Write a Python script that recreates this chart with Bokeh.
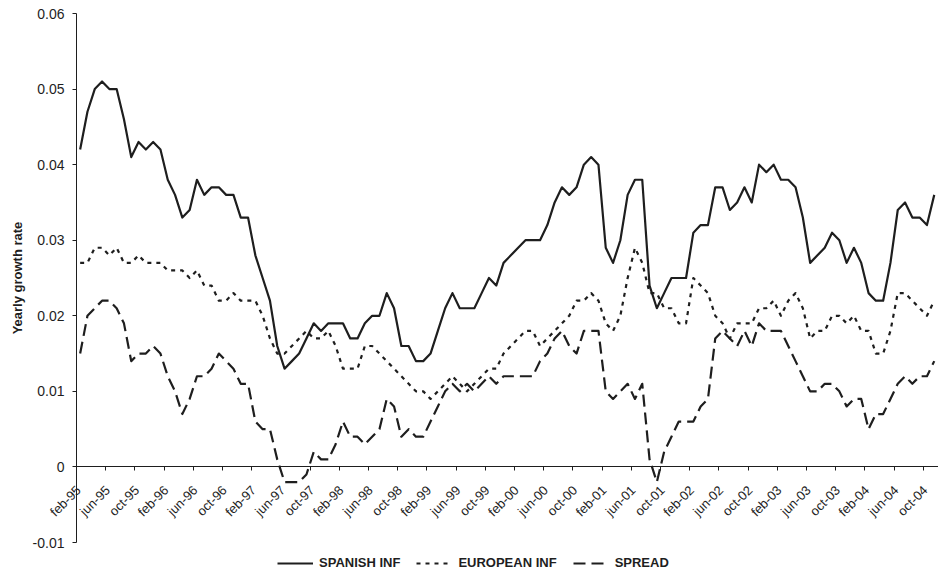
import numpy as np
from bokeh.plotting import figure
from bokeh.models import (Range1d, FixedTicker, CustomJSTickFormatter, Legend,
                          LegendItem, LinearAxis, ColumnDataSource)
from bokeh.core.properties import value
from bokeh.embed import file_html
from bokeh.resources import INLINE

# Monthly yearly growth rates, feb-95 .. nov-04
spanish = [
    0.042, 0.047, 0.050, 0.051, 0.050, 0.050, 0.046, 0.041, 0.043, 0.042, 0.043, 0.042,
    0.038, 0.036, 0.033, 0.034, 0.038, 0.036, 0.037, 0.037, 0.036, 0.036, 0.033, 0.033,
    0.028, 0.025, 0.022, 0.016, 0.013, 0.014, 0.015, 0.017, 0.019, 0.018, 0.019, 0.019,
    0.019, 0.017, 0.017, 0.019, 0.020, 0.020, 0.023, 0.021, 0.016, 0.016, 0.014, 0.014,
    0.015, 0.018, 0.021, 0.023, 0.021, 0.021, 0.021, 0.023, 0.025, 0.024, 0.027, 0.028,
    0.029, 0.030, 0.030, 0.030, 0.032, 0.035, 0.037, 0.036, 0.037, 0.040, 0.041, 0.040,
    0.029, 0.027, 0.030, 0.036, 0.038, 0.038, 0.024, 0.021, 0.023, 0.025, 0.025, 0.025,
    0.031, 0.032, 0.032, 0.037, 0.037, 0.034, 0.035, 0.037, 0.035, 0.040, 0.039, 0.040,
    0.038, 0.038, 0.037, 0.033, 0.027, 0.028, 0.029, 0.031, 0.030, 0.027, 0.029, 0.027,
    0.023, 0.022, 0.022, 0.027, 0.034, 0.035, 0.033, 0.033, 0.032, 0.036,
]
european = [
    0.027, 0.027, 0.029, 0.029, 0.028, 0.029, 0.027, 0.027, 0.028, 0.027, 0.027, 0.027,
    0.026, 0.026, 0.026, 0.025, 0.026, 0.024, 0.024, 0.022, 0.022, 0.023, 0.022, 0.022,
    0.022, 0.020, 0.017, 0.015, 0.015, 0.016, 0.017, 0.018, 0.017, 0.017, 0.018, 0.016,
    0.013, 0.013, 0.013, 0.016, 0.016, 0.015, 0.014, 0.013, 0.012, 0.011, 0.010, 0.010,
    0.009, 0.010, 0.011, 0.012, 0.011, 0.010, 0.011, 0.012, 0.013, 0.013, 0.015, 0.016,
    0.017, 0.018, 0.018, 0.016, 0.017, 0.018, 0.019, 0.020, 0.022, 0.022, 0.023, 0.022,
    0.019, 0.018, 0.020, 0.025, 0.029, 0.027, 0.023, 0.023, 0.021, 0.021, 0.019, 0.019,
    0.025, 0.024, 0.023, 0.020, 0.019, 0.017, 0.019, 0.019, 0.019, 0.021, 0.021, 0.022,
    0.020, 0.022, 0.023, 0.021, 0.017, 0.018, 0.018, 0.020, 0.020, 0.019, 0.020, 0.018,
    0.018, 0.015, 0.015, 0.018, 0.023, 0.023, 0.022, 0.021, 0.020, 0.022,
]
spread = [
    0.015, 0.020, 0.021, 0.022, 0.022, 0.021, 0.019, 0.014, 0.015, 0.015, 0.016, 0.015,
    0.012, 0.010, 0.007, 0.009, 0.012, 0.012, 0.013, 0.015, 0.014, 0.013, 0.011, 0.011,
    0.006, 0.005, 0.005, 0.001, -0.002, -0.002, -0.002, -0.001, 0.002, 0.001, 0.001, 0.003,
    0.006, 0.004, 0.004, 0.003, 0.004, 0.005, 0.009, 0.008, 0.004, 0.005, 0.004, 0.004,
    0.006, 0.008, 0.010, 0.011, 0.010, 0.011, 0.010, 0.011, 0.012, 0.011, 0.012, 0.012,
    0.012, 0.012, 0.012, 0.014, 0.015, 0.017, 0.018, 0.016, 0.015, 0.018, 0.018, 0.018,
    0.010, 0.009, 0.010, 0.011, 0.009, 0.011, 0.001, -0.002, 0.002, 0.004, 0.006, 0.006,
    0.006, 0.008, 0.009, 0.017, 0.018, 0.017, 0.016, 0.018, 0.016, 0.019, 0.018, 0.018,
    0.018, 0.016, 0.014, 0.012, 0.010, 0.010, 0.011, 0.011, 0.010, 0.008, 0.009, 0.009,
    0.005, 0.007, 0.007, 0.009, 0.011, 0.012, 0.011, 0.012, 0.012, 0.014,
]
tick_labels = ["feb-95", "jun-95", "oct-95", "feb-96", "jun-96", "oct-96", "feb-97",
               "jun-97", "oct-97", "feb-98", "jun-98", "oct-98", "feb-99", "jun-99",
               "oct-99", "feb-00", "jun-00", "oct-00", "feb-01", "jun-01", "oct-01",
               "feb-02", "jun-02", "oct-02", "feb-03", "jun-03", "oct-03", "feb-04",
               "jun-04", "oct-04"]
tick_step = 4
y_ticks = [-0.01, 0.0, 0.01, 0.02, 0.03, 0.04, 0.05, 0.06]
y_title = "Yearly growth rate"
series_names = ["SPANISH INF", "EUROPEAN INF", "SPREAD"]

n = len(spanish)
x = np.arange(n) + 0.5
src = ColumnDataSource(dict(x=x, spanish=spanish, european=european, spread=spread))

FONT = "Liberation Sans"
INK = "#1e1e1e"

# ---- layout (pixels): the whole canvas is the plot frame, axes sit at fixed locations
W, H = 938, 578
axis_left_px = 76          # where the value axis stands
month_px = 7.3             # width of one month
top_px, bottom_px = 13, 542  # pixel rows of the top and bottom value ticks
y_px = (bottom_px - top_px) / (y_ticks[-1] - y_ticks[0])
x_start = -axis_left_px / month_px
x_end = (W - axis_left_px) / month_px
y_end = y_ticks[-1] + top_px / y_px
y_start = y_ticks[0] - (H - bottom_px) / y_px

p = figure(width=W, height=H, output_backend="svg", toolbar_location=None,
           x_range=Range1d(x_start, x_end), y_range=Range1d(y_start, y_end),
           x_axis_type=None, y_axis_type=None, title=None,
           min_border_left=0, min_border_right=0, min_border_top=0, min_border_bottom=0)
p.outline_line_color = None
p.grid.visible = False
p.background_fill_color = "white"
p.border_fill_color = "white"

# category axis crossing at zero
tick_pos = [i * tick_step for i in range(len(tick_labels))]
xaxis = LinearAxis(fixed_location=0, bounds=(0, x_end), ticker=FixedTicker(ticks=tick_pos),
                   formatter=CustomJSTickFormatter(code="return '';"))
xaxis.major_label_text_font_size = "1px"
xaxis.major_tick_out = 4
xaxis.major_tick_in = 0
xaxis.minor_tick_line_color = None
xaxis.axis_line_color = INK
xaxis.major_tick_line_color = INK
p.add_layout(xaxis, "below")

# value axis
yaxis = LinearAxis(fixed_location=0, bounds=(y_ticks[0], y_ticks[-1]),
                   ticker=FixedTicker(ticks=y_ticks),
                   formatter=CustomJSTickFormatter(
                       code="return (Math.round(tick*100)/100).toString();"))
yaxis.major_label_text_font = FONT
yaxis.major_label_text_font_size = "14px"
yaxis.major_label_text_color = INK
yaxis.major_tick_out = 4
yaxis.major_tick_in = 0
yaxis.minor_tick_line_color = None
yaxis.axis_line_color = INK
yaxis.major_tick_line_color = INK
yaxis.major_label_standoff = 8
p.add_layout(yaxis, "left")

# diagonal category labels under the zero line
lab_src = ColumnDataSource(dict(x=tick_pos, y=[0.0] * len(tick_pos), text=tick_labels))
p.text("x", "y", text="text", source=lab_src, angle=45, angle_units="deg",
       text_align="right", text_baseline="middle", x_offset=2, y_offset=21,
       text_font=value(FONT), text_font_size="13px", text_color=INK)

# value-axis title, centred on the value axis
p.text(x=[0], y=[(y_ticks[0] + y_ticks[-1]) / 2], text=[y_title], angle=90,
       angle_units="deg", text_align="center", text_baseline="middle", x_offset=-59,
       text_font=value(FONT), text_font_size="13px", text_font_style="bold",
       text_color=INK)

r1 = p.line("x", "spanish", source=src, line_width=2.2, line_color=INK, line_join="round")
r2 = p.line("x", "european", source=src, line_width=2.2, line_color=INK,
            line_dash="4 5", line_join="round")
r3 = p.line("x", "spread", source=src, line_width=2.2, line_color=INK,
            line_dash="12 6", line_join="round")

legend = Legend(items=[LegendItem(label=series_names[0], renderers=[r1]),
                       LegendItem(label=series_names[1], renderers=[r2]),
                       LegendItem(label=series_names[2], renderers=[r3])],
                orientation="horizontal", location=(277, 8),
                border_line_color=None, background_fill_alpha=0,
                label_text_font=FONT, label_text_font_size="13px",
                label_text_font_style="bold", label_text_color=INK,
                glyph_width=36, glyph_height=14, label_height=14,
                label_standoff=6, spacing=16, padding=0, margin=0)
p.add_layout(legend, "center")

open("out.html", "w").write(file_html(p, INLINE))
